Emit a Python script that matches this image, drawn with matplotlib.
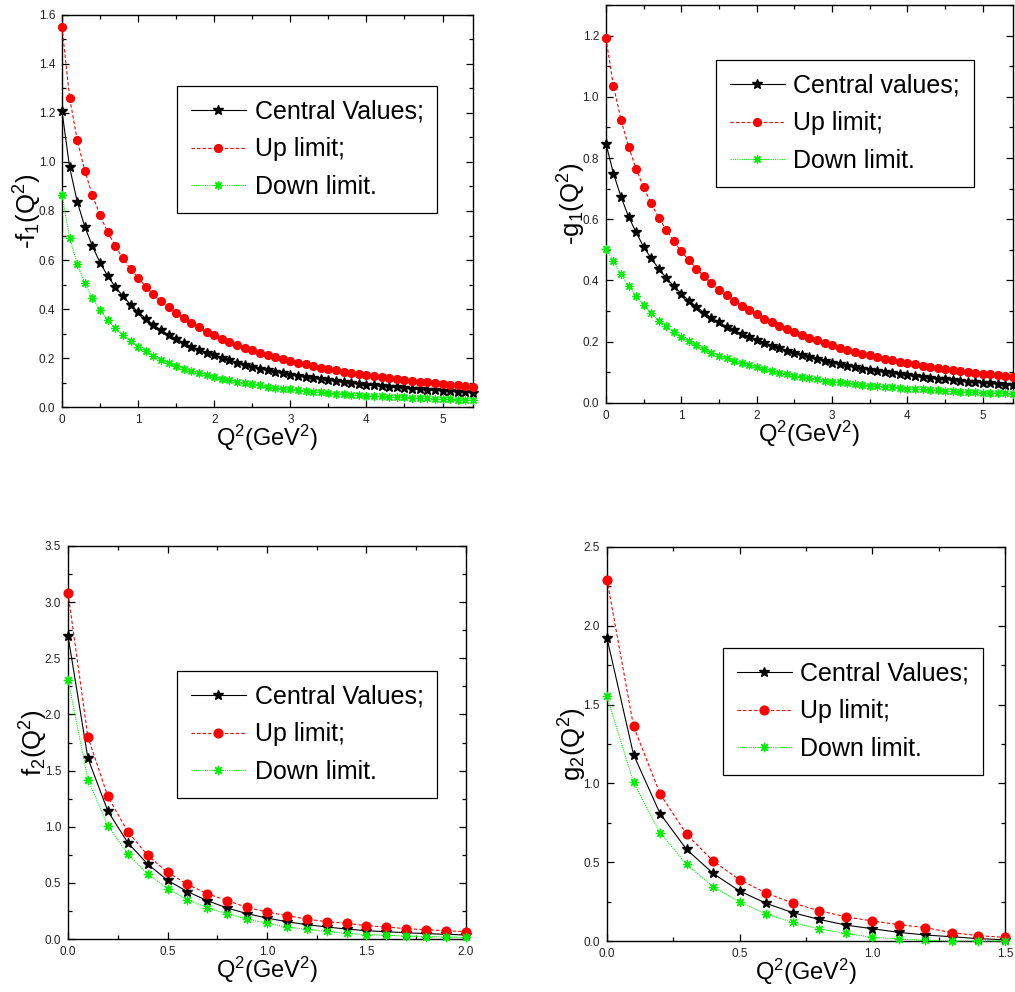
import matplotlib
matplotlib.use("Agg")
import matplotlib.pyplot as plt
from matplotlib.ticker import MultipleLocator, FormatStrFormatter

plt.rcParams['font.family'] = ['Liberation Sans', 'DejaVu Sans']
plt.rcParams['mathtext.fontset'] = 'custom'
plt.rcParams['mathtext.rm'] = 'Liberation Sans'
plt.rcParams['mathtext.it'] = 'Liberation Sans:italic'

# ---------------- data ----------------
q2_long = [round(0.1 * i, 1) for i in range(55)]   # 0.0 .. 5.4
q2_f2 = [round(0.1 * i, 1) for i in range(21)]     # 0.0 .. 2.0
q2_g2 = [round(0.1 * i, 1) for i in range(16)]     # 0.0 .. 1.5

f1_central = [1.207, 0.978, 0.838, 0.735, 0.656, 0.589, 0.535, 0.490, 0.453, 0.418,
              0.388, 0.361, 0.336, 0.313, 0.295, 0.278, 0.261, 0.246, 0.234, 0.222,
              0.211, 0.200, 0.190, 0.181, 0.172, 0.164, 0.157, 0.150, 0.143, 0.137,
              0.132, 0.127, 0.122, 0.117, 0.113, 0.109, 0.105, 0.101, 0.098, 0.094,
              0.091, 0.088, 0.085, 0.083, 0.080, 0.078, 0.075, 0.073, 0.071, 0.069,
              0.067, 0.065, 0.063, 0.061, 0.059]
f1_up = [1.551, 1.261, 1.090, 0.963, 0.864, 0.782, 0.714, 0.657, 0.607, 0.563,
         0.527, 0.491, 0.460, 0.431, 0.408, 0.384, 0.363, 0.344, 0.325, 0.307,
         0.294, 0.278, 0.265, 0.253, 0.241, 0.231, 0.220, 0.211, 0.203, 0.195,
         0.188, 0.181, 0.174, 0.167, 0.161, 0.155, 0.150, 0.144, 0.140, 0.135,
         0.129, 0.125, 0.121, 0.117, 0.113, 0.110, 0.106, 0.103, 0.101, 0.097,
         0.094, 0.091, 0.088, 0.086, 0.083]
f1_down = [0.864, 0.691, 0.584, 0.505, 0.444, 0.396, 0.354, 0.321, 0.293, 0.268,
           0.246, 0.227, 0.210, 0.193, 0.180, 0.167, 0.156, 0.147, 0.137, 0.129,
           0.121, 0.115, 0.109, 0.103, 0.097, 0.092, 0.088, 0.083, 0.079, 0.075,
           0.072, 0.069, 0.066, 0.063, 0.060, 0.058, 0.055, 0.053, 0.051, 0.049,
           0.047, 0.045, 0.043, 0.042, 0.040, 0.039, 0.037, 0.036, 0.035, 0.034,
           0.032, 0.031, 0.030, 0.029, 0.028]

g1_central = [0.847, 0.749, 0.673, 0.609, 0.557, 0.510, 0.472, 0.439, 0.408, 0.382,
              0.357, 0.334, 0.315, 0.295, 0.278, 0.263, 0.249, 0.237, 0.225, 0.214,
              0.204, 0.195, 0.186, 0.178, 0.170, 0.162, 0.155, 0.149, 0.143, 0.137,
              0.131, 0.126, 0.121, 0.116, 0.112, 0.108, 0.104, 0.100, 0.097, 0.093,
              0.090, 0.087, 0.084, 0.082, 0.079, 0.077, 0.074, 0.072, 0.070, 0.068,
              0.066, 0.064, 0.062, 0.060, 0.058]
g1_up = [1.191, 1.035, 0.925, 0.837, 0.765, 0.704, 0.652, 0.605, 0.565, 0.528,
         0.495, 0.466, 0.439, 0.414, 0.391, 0.370, 0.352, 0.333, 0.318, 0.303,
         0.290, 0.274, 0.263, 0.252, 0.241, 0.231, 0.222, 0.213, 0.204, 0.196,
         0.188, 0.181, 0.174, 0.167, 0.161, 0.155, 0.150, 0.145, 0.140, 0.135,
         0.130, 0.126, 0.122, 0.118, 0.115, 0.111, 0.108, 0.105, 0.102, 0.099,
         0.096, 0.093, 0.091, 0.088, 0.086]
g1_down = [0.502, 0.464, 0.420, 0.382, 0.348, 0.319, 0.293, 0.269, 0.250, 0.231,
           0.215, 0.201, 0.188, 0.175, 0.164, 0.154, 0.146, 0.137, 0.129, 0.123,
           0.116, 0.110, 0.104, 0.099, 0.094, 0.089, 0.085, 0.081, 0.077, 0.073,
           0.070, 0.067, 0.064, 0.062, 0.059, 0.057, 0.055, 0.053, 0.051, 0.049,
           0.047, 0.045, 0.044, 0.042, 0.041, 0.039, 0.038, 0.037, 0.036, 0.035,
           0.034, 0.033, 0.032, 0.031, 0.030]

f2_central = [2.70, 1.61, 1.14, 0.859, 0.668, 0.523, 0.422, 0.342, 0.276, 0.226,
              0.187, 0.154, 0.128, 0.107, 0.089, 0.074, 0.065, 0.056, 0.048, 0.042, 0.036]
f2_up = [3.08, 1.80, 1.27, 0.957, 0.746, 0.594, 0.487, 0.404, 0.342, 0.282,
         0.241, 0.208, 0.178, 0.154, 0.140, 0.119, 0.107, 0.092, 0.083, 0.074, 0.065]
f2_down = [2.31, 1.42, 1.01, 0.758, 0.579, 0.449, 0.351, 0.279, 0.223, 0.178,
           0.140, 0.107, 0.086, 0.068, 0.051, 0.039, 0.033, 0.027, 0.021, 0.018, 0.015]

g2_central = [1.923, 1.183, 0.809, 0.581, 0.429, 0.317, 0.239, 0.180, 0.137, 0.101,
              0.078, 0.055, 0.038, 0.027, 0.015, 0.008]
g2_up = [2.293, 1.363, 0.934, 0.678, 0.507, 0.389, 0.304, 0.241, 0.192, 0.154,
         0.127, 0.104, 0.085, 0.053, 0.034, 0.023]
g2_down = [1.553, 1.006, 0.687, 0.486, 0.344, 0.247, 0.171, 0.118, 0.076, 0.049,
           0.023, 0.013, 0.004, 0.001, 0.000, 0.000]

labels_cap = ["Central Values;", "Up limit;", "Down limit."]
labels_low = ["Central values;", "Up limit;", "Down limit."]

xlabel = r"Q$^{2}$(GeV$^{2}$)"

# ---------------- figure ----------------
fig = plt.figure(figsize=(10.15, 9.92), dpi=100)

panels = [
    dict(rect=[0.0611, 0.5897, 0.4049, 0.3952], x=q2_long, ys=(f1_central, f1_up, f1_down),
         xlim=(0, 5.4), ylim=(0, 1.6), xmaj=1, xmin=0.5, ymaj=0.2, ymin=0.1,
         xfmt="%d", yfmt="%.1f", ylabel=r"-f$_{1}$(Q$^{2}$)", labels=labels_cap,
         leg=(0.28, 0.819), ms=1.0),
    dict(rect=[0.5970, 0.5938, 0.4010, 0.4012], x=q2_long, ys=(g1_central, g1_up, g1_down),
         xlim=(0, 5.4), ylim=(0, 1.3), xmaj=1, xmin=0.5, ymaj=0.2, ymin=0.1,
         xfmt="%d", yfmt="%.1f", ylabel=r"-g$_{1}$(Q$^{2}$)", labels=labels_low,
         leg=(0.270, 0.862), ms=1.0),
    dict(rect=[0.0670, 0.0534, 0.3921, 0.3962], x=q2_f2, ys=(f2_central, f2_up, f2_down),
         xlim=(0, 2.0), ylim=(0, 3.5), xmaj=0.5, xmin=0.25, ymaj=0.5, ymin=0.25,
         xfmt="%.1f", yfmt="%.1f", ylabel=r"f$_{2}$(Q$^{2}$)", labels=labels_cap,
         leg=(0.274, 0.682), ms=1.12),
    dict(rect=[0.5980, 0.0514, 0.3921, 0.3972], x=q2_g2, ys=(g2_central, g2_up, g2_down),
         xlim=(0, 1.5), ylim=(0, 2.5), xmaj=0.5, xmin=0.25, ymaj=0.5, ymin=0.25,
         xfmt="%.1f", yfmt="%.1f", ylabel=r"g$_{2}$(Q$^{2}$)", labels=labels_cap,
         leg=(0.291, 0.744), ms=1.12),
]

for p in panels:
    ax = fig.add_axes(p["rect"])
    c, u, d = p["ys"]
    k = p["ms"]
    l1, = ax.plot(p["x"], c, color="black", lw=0.8, ls="-", marker="*",
                  ms=7.0 * k, mec="black", mfc="black", clip_on=False, zorder=3)
    l2, = ax.plot(p["x"], u, color="#ff0000", lw=0.8, ls=(0, (3, 2)), marker="o",
                  ms=5.6 * k, mec="#ff0000", mfc="#ff0000", clip_on=False, zorder=3)
    l3, = ax.plot(p["x"], d, color="#00ee00", lw=0.8, ls=(0, (1, 1)), marker=(8, 2, 0),
                  ms=6.0 * k, mec="#00ee00", mew=0.9, clip_on=False, zorder=3)
    ax.set_xlim(*p["xlim"])
    ax.set_ylim(*p["ylim"])
    ax.xaxis.set_major_locator(MultipleLocator(p["xmaj"]))
    ax.xaxis.set_minor_locator(MultipleLocator(p["xmin"]))
    ax.yaxis.set_major_locator(MultipleLocator(p["ymaj"]))
    ax.yaxis.set_minor_locator(MultipleLocator(p["ymin"]))
    ax.xaxis.set_major_formatter(FormatStrFormatter(p["xfmt"]))
    ax.yaxis.set_major_formatter(FormatStrFormatter(p["yfmt"]))
    ax.tick_params(which="both", direction="in", top=True, right=True,
                   labelsize=8.5, labelcolor="#222222", width=0.9)
    ax.tick_params(which="major", length=5, pad=5)
    ax.tick_params(which="minor", length=3)
    for s in ax.spines.values():
        s.set_linewidth(1.0)
    ax.set_xlabel(xlabel, fontsize=17, labelpad=-2)
    ax.set_ylabel(p["ylabel"], fontsize=18.5, labelpad=-4)
    leg = ax.legend([l1, l2, l3], p["labels"], loc="upper left",
                    bbox_to_anchor=p["leg"], borderaxespad=0, fontsize=18,
                    frameon=True, fancybox=False, shadow=False, edgecolor="black",
                    framealpha=1, handlelength=2.2, handletextpad=0.35,
                    labelspacing=0.55, borderpad=0.55, markerscale=1.0)
    leg.get_frame().set_linewidth(0.9)

fig.savefig("out.png", dpi=100)
